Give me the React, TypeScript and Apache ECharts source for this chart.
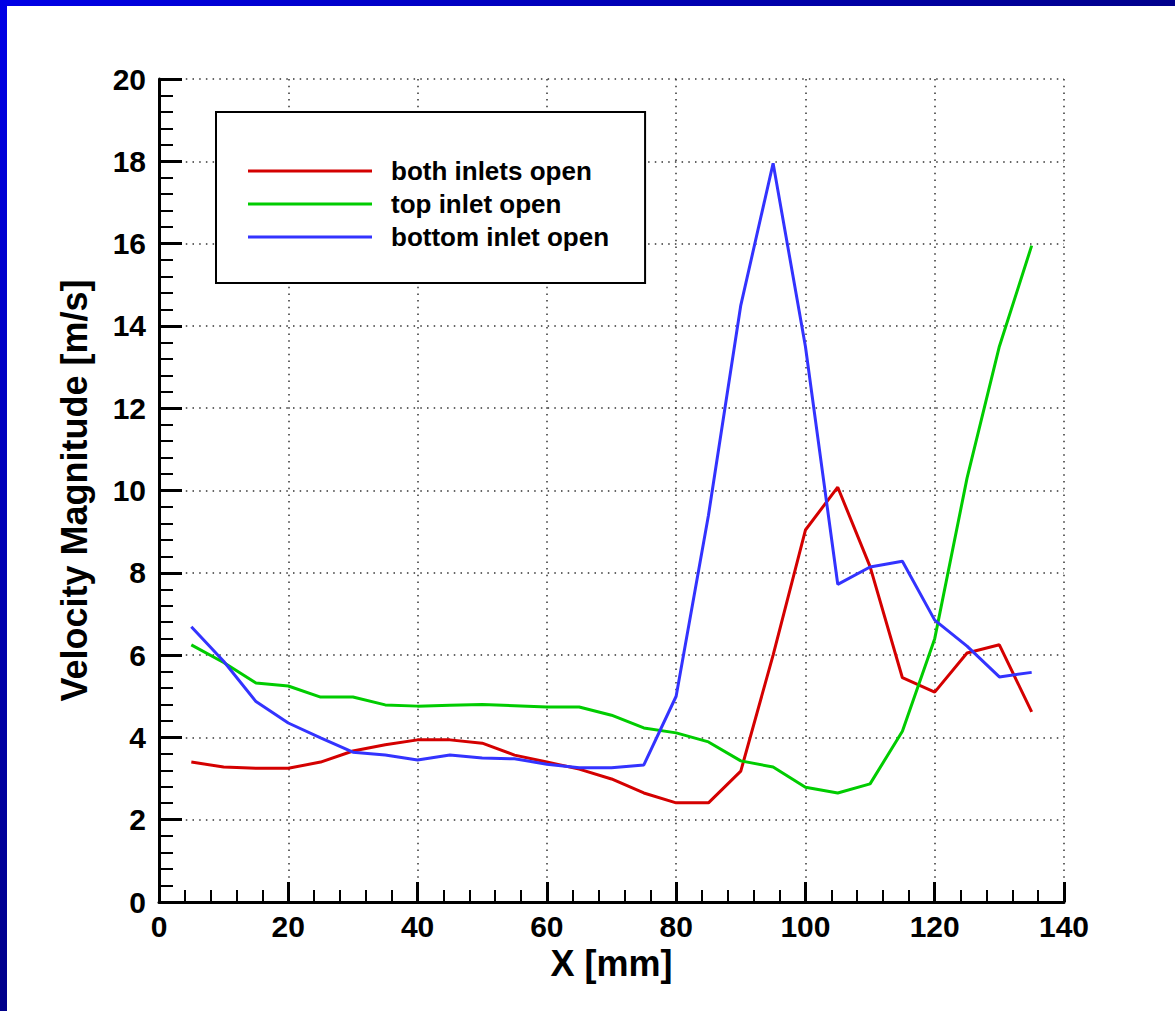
import React, { useEffect, useRef } from "react";
import * as echarts from "echarts";

// Measurement stations along the channel [mm]
const positionsMm = [
  5, 10, 15, 20, 25, 30, 35, 40, 45, 50, 55, 60, 65, 70, 75, 80, 85, 90, 95,
  100, 105, 110, 115, 120, 125, 130, 135,
];

// Velocity magnitude [m/s] for each inlet configuration
const bothInletsOpen = [
  3.4, 3.28, 3.25, 3.25, 3.4, 3.67, 3.82, 3.94, 3.94, 3.86, 3.57, 3.4, 3.23,
  2.99, 2.65, 2.41, 2.41, 3.18, 6.0, 9.04, 10.08, 8.15, 5.45, 5.1, 6.05, 6.25,
  4.62,
];
const topInletOpen = [
  6.25, 5.82, 5.32, 5.25, 4.98, 4.98, 4.79, 4.76, 4.78, 4.8, 4.77, 4.74, 4.74,
  4.54, 4.23, 4.11, 3.89, 3.43, 3.28, 2.79, 2.65, 2.87, 4.15, 6.4, 10.3, 13.5,
  15.95,
];
const bottomInletOpen = [
  6.69, 5.85, 4.87, 4.35, 3.99, 3.64, 3.57, 3.45, 3.57, 3.5, 3.48, 3.35, 3.26,
  3.26, 3.33, 5.0, 9.4, 14.5, 17.95, 13.5, 7.72, 8.14, 8.28, 6.85, 6.22, 5.47,
  5.58,
];

const seriesNames = ["both inlets open", "top inlet open", "bottom inlet open"];
const seriesValues = [bothInletsOpen, topInletOpen, bottomInletOpen];
const seriesColors = ["#d40000", "#00cc00", "#3333ff"];

const xTitle = "X [mm]";
const yTitle = "Velocity Magnitude [m/s]";

const FONT = '"Liberation Sans", Arial, Helvetica, sans-serif';
const W = 1175;
const H = 1011;

export default function App() {
  const ref = useRef<HTMLDivElement | null>(null);

  useEffect(() => {
    if (!ref.current) return;
    const chart = echarts.init(ref.current, null, { renderer: "svg" });

    const gridLine = {
      show: true,
      lineStyle: { color: "#333", width: 1.5, type: [1.5, 5.2] as any },
    };

    const option: any = {
      animation: false,
      backgroundColor: "#ffffff",
      graphic: [
        {
          type: "rect",
          silent: true,
          z: 100,
          shape: { x: 0, y: 0, width: W, height: 6 },
          style: {
            fill: new echarts.graphic.LinearGradient(0, 0, 1, 0, [
              { offset: 0, color: "#0000e6" },
              { offset: 1, color: "#00008c" },
            ]),
          },
        },
        {
          type: "rect",
          silent: true,
          z: 100,
          shape: { x: 0, y: 0, width: 7, height: H },
          style: {
            fill: new echarts.graphic.LinearGradient(0, 0, 0, 1, [
              { offset: 0, color: "#0000e6" },
              { offset: 1, color: "#00008a" },
            ]),
          },
        },
      ],
      grid: { left: 159, right: 111, top: 79, bottom: 109, containLabel: false },
      legend: {
        orient: "vertical",
        left: 216,
        top: 112,
        padding: [46, 36, 33, 32],
        itemWidth: 124,
        itemHeight: 3,
        itemGap: 7,
        icon: "rect",
        borderColor: "#000",
        borderWidth: 2,
        backgroundColor: "#fff",
        data: seriesNames,
        textStyle: {
          fontFamily: FONT,
          fontWeight: "bold",
          fontSize: 26,
          lineHeight: 22,
          color: "#000",
          padding: [0, 0, 0, 14],
        },
      },
      xAxis: {
        type: "value",
        min: 0,
        max: 140,
        interval: 20,
        name: xTitle,
        nameLocation: "middle",
        nameGap: 40,
        nameTextStyle: {
          fontFamily: FONT,
          fontWeight: "bold",
          fontSize: 36,
          color: "#000",
        },
        axisLine: { show: true, onZero: false, lineStyle: { color: "#000", width: 3 } },
        axisTick: { show: true, inside: true, length: 20, lineStyle: { color: "#000", width: 3 } },
        minorTick: { show: true, splitNumber: 5, length: 12, lineStyle: { color: "#000", width: 2 } },
        axisLabel: {
          margin: 9,
          fontFamily: FONT,
          fontWeight: "bold",
          fontSize: 30,
          color: "#000",
        },
        splitLine: gridLine,
      },
      yAxis: {
        type: "value",
        min: 0,
        max: 20,
        interval: 2,
        name: yTitle,
        nameLocation: "middle",
        nameGap: 67,
        nameTextStyle: {
          fontFamily: FONT,
          fontWeight: "bold",
          fontSize: 36,
          color: "#000",
        },
        axisLine: { show: true, onZero: false, lineStyle: { color: "#000", width: 3 } },
        axisTick: { show: true, inside: true, length: 23, lineStyle: { color: "#000", width: 3 } },
        minorTick: { show: true, splitNumber: 5, length: 14, lineStyle: { color: "#000", width: 2 } },
        axisLabel: {
          margin: 13,
          fontFamily: FONT,
          fontWeight: "bold",
          fontSize: 30,
          color: "#000",
        },
        splitLine: gridLine,
      },
      series: seriesNames.map((name, i) => ({
        name,
        type: "line",
        symbol: "none",
        smooth: false,
        data: positionsMm.map((x, j) => [x, seriesValues[i][j]]),
        lineStyle: { color: seriesColors[i], width: 3 },
        itemStyle: { color: seriesColors[i] },
        z: 3,
      })),
    };

    chart.setOption(option);
    return () => chart.dispose();
  }, []);

  return (
    <div
      ref={ref}
      style={{ position: "absolute", left: 0, top: 0, width: W, height: H }}
    />
  );
}
